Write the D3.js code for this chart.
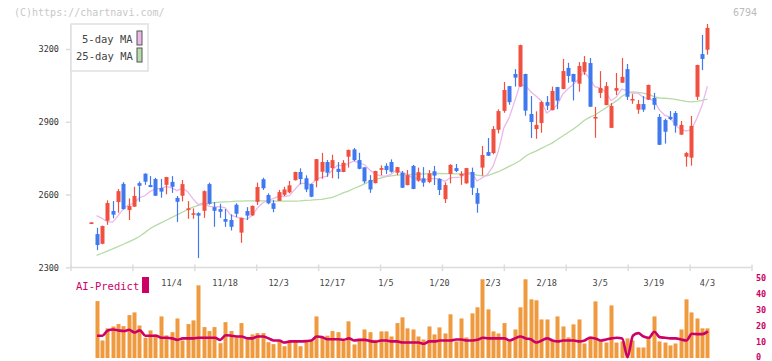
<!DOCTYPE html>
<html><head><meta charset="utf-8">
<script src="https://cdn.jsdelivr.net/npm/d3@7"></script>
<style>body{margin:0;background:#fff;} svg{display:block;}</style>
</head><body>
<svg id="c" width="772" height="361"></svg>
<script>
const openP = [2485,2437,2397,2492,2532,2569,2644,2536,2550,2647,
2686,2639,2664,2627,2640,2652,2586,2595,2543,2517,
2523,2533,2643,2548,2540,2499,2495,2558,2443,2532,
2514,2570,2663,2598,2564,2574,2599,2609,2659,2693,
2667,2643,2657,2694,2734,2709,2706,2693,2756,2786,
2742,2712,2660,2647,2702,2718,2734,2690,2690,2639,
2718,2657,2667,2652,2696,2664,2581,2685,2709,2678,
2646,2693,2606,2711,2775,2771,2867,2945,3047,3097,
3045,3097,2932,2870,2895,2981,2948,3043,3035,3122,
3097,3057,3106,3142,2913,3019,2969,2875,3028,3061,
3117,2990,2950,2973,2991,2998,2920,2907,2920,2936,
2847,2756,2752,3003,3179,3197];
const highP = [2487,2463,2472,2576,2573,2623,2651,2584,2632,2654,
2687,2676,2669,2664,2673,2676,2594,2660,2573,2543,
2527,2617,2649,2569,2562,2540,2518,2564,2505,2548,
2555,2649,2669,2605,2577,2619,2632,2656,2694,2708,
2679,2645,2747,2772,2742,2764,2734,2742,2785,2792,
2772,2713,2680,2698,2720,2729,2745,2714,2697,2701,
2722,2711,2713,2701,2718,2667,2650,2725,2726,2696,
2710,2711,2626,2800,2833,2882,2951,3064,3048,3117,
3218,3098,3006,2943,2986,3006,3045,3044,3159,3143,
3098,3146,3171,3163,2961,3109,3064,2977,3101,3163,
3138,3014,2990,3006,3053,3019,2932,2913,2944,2944,
2903,2775,2924,3135,3258,3303];
const lowP = [2483,2371,2395,2475,2502,2525,2538,2495,2549,2570,
2640,2630,2594,2587,2601,2607,2487,2572,2500,2500,
2338,2504,2558,2467,2504,2467,2452,2507,2401,2495,
2512,2557,2619,2560,2527,2574,2594,2605,2658,2642,
2610,2589,2630,2665,2673,2667,2665,2692,2711,2738,
2704,2646,2607,2646,2679,2685,2690,2680,2627,2638,
2622,2653,2632,2647,2639,2598,2565,2646,2693,2640,
2645,2598,2525,2678,2759,2766,2852,2937,2970,3045,
3044,2925,2833,2830,2855,2948,2947,2952,3034,3061,
2988,3024,3093,2961,2834,2998,2968,2874,3010,3060,
2990,2974,2933,2941,2990,2950,2804,2810,2907,2855,
2846,2715,2719,2990,3113,3177];
const closeP = [2485,2392,2470,2565,2517,2614,2540,2553,2594,2636,
2653,2631,2595,2612,2672,2632,2570,2643,2543,2523,
2513,2614,2562,2533,2529,2488,2467,2521,2504,2513,
2553,2631,2626,2564,2541,2610,2621,2638,2693,2664,
2621,2591,2746,2734,2690,2742,2693,2731,2784,2742,
2706,2654,2621,2697,2709,2701,2694,2713,2628,2680,
2623,2692,2649,2687,2678,2619,2639,2722,2697,2685,
2709,2628,2562,2763,2760,2870,2944,3031,2981,3082,
3216,2946,2899,2887,2981,2966,3027,2987,3109,3089,
3065,3130,3146,2962,2920,3039,3047,2965,3039,3085,
3003,2994,2973,2950,3052,2970,2805,2859,2911,2884,
2887,2771,2883,3134,3159,3287];
const ma5 = [null,2513,2502,2488,2486,2512,2541,2558,2564,2587,
2595,2613,2622,2625,2633,2628,2616,2626,2612,2582,
2558,2567,2551,2549,2550,2545,2516,2508,2502,2499,
2512,2544,2565,2577,2583,2594,2592,2595,2621,2645,
2647,2641,2663,2671,2676,2701,2721,2718,2728,2738,
2731,2723,2701,2684,2677,2676,2684,2703,2689,2683,
2668,2667,2654,2666,2666,2665,2654,2669,2671,2672,
2690,2688,2656,2669,2684,2717,2780,2874,2917,2982,
3051,3051,3025,3006,2986,2936,2952,2970,3014,3036,
3055,3076,3108,3078,3045,3039,3023,2987,3002,3035,
3028,3017,3019,3001,2994,2988,2950,2927,2919,2886,
2869,2862,2867,2912,2967,3047];
const ma25 = [null,2349,2358,2367,2376,2385,2395,2405,2415,2427,
2443,2460,2472,2483,2494,2505,2516,2527,2539,2548,
2555,2560,2564,2567,2569,2570,2571,2573,2573,2574,
2574,2574,2574,2574,2573,2573,2573,2573,2573,2574,
2576,2577,2579,2580,2584,2588,2597,2607,2614,2625,
2634,2644,2653,2662,2668,2674,2677,2680,2681,2682,
2683,2684,2685,2685,2686,2687,2686,2686,2685,2685,
2685,2685,2680,2677,2678,2686,2694,2705,2716,2727,
2739,2757,2770,2779,2790,2801,2812,2827,2841,2856,
2870,2887,2905,2918,2928,2942,2957,2971,2986,3004,
3017,3023,3021,3018,3014,3004,2998,2997,2995,2992,
2988,2984,2982,2984,2988,2993];
const volume = [null,35.7,11,18.6,19.8,21.3,20,26.9,28.6,20.4,
12.7,17.3,14.8,26.1,14.2,16.2,24.8,11,21.3,23.6,
45.6,19.4,16.9,19.4,9.3,22.5,16.9,12.9,21.9,11.6,
14.8,15.6,15.6,9.9,8.7,10.6,7.4,10.6,10.6,7.4,
10.6,10.6,26.1,13.1,14,16.9,16.2,10.6,23,8.5,
12.1,17.9,16.2,11.4,16.7,16.7,13.5,21.9,25.5,18.6,
17.9,13.5,11.6,19.8,14.8,19.2,15.4,27.4,10.4,24.8,
12.9,28,31.8,49.4,30.5,16.7,15.4,21.9,10.4,17.9,
31.8,49.4,36.8,36.2,24.2,24.2,11,26.1,19.8,12.9,
21.1,24.2,9.1,13.5,35.5,11,9.7,33,9.7,10.4,
12.3,11,6.6,6.6,12.3,26.1,10.4,9.7,7.9,9.1,
17.9,36.8,28.6,24.8,18.6,18.6];
const aiPredict = [null,14,14,17.3,17.9,17.3,16.9,17.7,16,17.3,
14,14,14,12.7,12.7,12.3,11.4,12.3,12.3,12.3,
12.7,12.7,12.7,12.7,11.4,14.3,14,13.5,13.5,12.3,
12.3,13.5,13.5,12.3,11,11,9.7,10.4,10.4,10.4,
10.6,11,13.5,13.1,11.8,11.8,11.8,11.4,12.3,11,
11.4,11.4,10.6,10.2,11,11,10.4,10.4,9.7,9.7,
9.7,9.7,8.9,10.4,10.4,11,11,11,11.6,11.6,
11,11,11.4,12.7,12.3,12.3,12.3,12.3,11,12.3,
13.5,12.3,11.6,9.7,11,12.3,11,10.4,11,11,
11,10.4,11,12.7,12.3,11,11.6,12.3,12.7,12.3,
0.5,14,15.6,13.5,12.7,16.5,13.1,12.7,12.3,12.3,
11.6,11,15.2,15,15,16.7];
const dateLabels = ["11/4","11/18","12/3","12/17","1/5","1/20","2/3","2/18","3/5","3/19","4/3"];
const dateLabelIndex = [15,25,35,45,55,65,75,85,95,105,115];
const priceTicks = [2300,2600,2900,3200];
const volTicks = [0,10,20,30,40,50];
const gridTicks = d3.range(0,12);

const svg = d3.select("#c");
const mono = "'DejaVu Sans Mono', monospace";
const idx = d3.range(openP.length);
const x = d3.scaleLinear().domain([0,115]).range([91.2,707.4]);
const xg = d3.scaleLinear().domain([0,11]).range([71,752]);
const y = d3.scaleLinear().domain([2300,3200]).range([267.3,49]);
const yv = d3.scaleLinear().domain([0,50]).range([358,278.3]);
const RED="#f05040", BLUE="#4078f0";

// watermark / code
svg.append("text").attr("x",14).attr("y",16).attr("font-family",mono).attr("font-size",10)
  .attr("fill","#c8c8c8").text("(C)https://chartnavi.com/");
svg.append("text").attr("x",757).attr("y",16).attr("text-anchor","end").attr("font-family",mono)
  .attr("font-size",10).attr("fill","#bbb").text("6794");

// axes
const axisCol="#dcdcdc";
svg.append("line").attr("x1",71).attr("x2",71).attr("y1",24).attr("y2",267.5)
  .attr("stroke",axisCol).attr("stroke-width",1.5);
svg.append("line").attr("x1",71).attr("x2",752).attr("y1",267.5).attr("y2",267.5)
  .attr("stroke",axisCol).attr("stroke-width",1.5);
svg.append("g").selectAll("line").data(gridTicks).join("line")
  .attr("x1",d=>xg(d)).attr("x2",d=>xg(d)).attr("y1",264.5).attr("y2",271)
  .attr("stroke",axisCol).attr("stroke-width",1.5);
const yAxis = svg.append("g").attr("transform","translate(71,0)")
  .call(d3.axisLeft(y).tickValues(priceTicks).tickFormat(d3.format("d")).tickSize(5).tickPadding(7));
yAxis.select(".domain").remove();
yAxis.selectAll("line").attr("stroke",axisCol).attr("stroke-width",1.5);
yAxis.selectAll("text").attr("font-family",mono).attr("font-size",8.5).attr("fill","#333");

// date labels
svg.append("g").selectAll("text").data(dateLabels).join("text")
  .attr("x",(d,k)=>x(dateLabelIndex[k])).attr("y",285.5).attr("text-anchor","middle")
  .attr("font-family",mono).attr("font-size",8.5).attr("fill","#444").text(d=>d);

// MA lines
const maLine = arr => d3.line().defined(i=>arr[i]!=null).x(i=>x(i)).y(i=>y(arr[i]));
svg.append("path").attr("d",maLine(ma25)(idx)).attr("fill","none").attr("stroke","#b4dca4").attr("stroke-width",1.3);
svg.append("path").attr("d",maLine(ma5)(idx)).attr("fill","none").attr("stroke","#ebb8eb").attr("stroke-width",1.3);

// candles
const cg = svg.append("g");
cg.selectAll("line").data(idx).join("line")
  .attr("x1",i=>Math.round(x(i))+0.5).attr("x2",i=>Math.round(x(i))+0.5)
  .attr("y1",i=>y(highP[i])).attr("y2",i=>y(lowP[i]))
  .attr("stroke",i=>closeP[i]>=openP[i]?RED:BLUE).attr("stroke-width",1.2);
cg.selectAll("rect").data(idx).join("rect")
  .attr("x",i=>Math.round(x(i))-1.5).attr("width",4)
  .attr("y",i=>y(Math.max(openP[i],closeP[i])))
  .attr("height",i=>Math.max(1.6,y(Math.min(openP[i],closeP[i]))-y(Math.max(openP[i],closeP[i]))))
  .attr("fill",i=>closeP[i]>=openP[i]?RED:BLUE);

// legend
svg.append("rect").attr("x",71).attr("y",24).attr("width",77).attr("height",47)
  .attr("fill","#fff").attr("stroke","#e0e0e0").attr("stroke-width",1.5);
const leg = [["5-day MA","#ecb8ec",82,43,31],["25-day MA","#b8dcab",76,60,48]];
leg.forEach(l=>{
  svg.append("text").attr("x",l[2]).attr("y",l[3]).attr("font-family",mono).attr("font-size",10.5)
    .attr("fill","#444").text(l[0]);
  svg.append("rect").attr("x",137).attr("y",l[4]).attr("width",5).attr("height",14)
    .attr("fill",l[1]).attr("stroke","#555").attr("stroke-width",1);
});

// lower panel
svg.append("text").attr("x",76).attr("y",290).attr("font-family",mono).attr("font-size",10.5)
  .attr("fill","#cc0066").text("AI-Predict");
svg.append("rect").attr("x",142).attr("y",277).attr("width",7).attr("height",16).attr("fill","#cc0066");
svg.append("g").selectAll("rect").data(idx.filter(i=>volume[i]!=null)).join("rect")
  .attr("x",i=>Math.round(x(i))-1.5).attr("width",4)
  .attr("y",i=>yv(volume[i])).attr("height",i=>yv(0)-yv(volume[i]))
  .attr("fill","#f09a40");
svg.append("path").attr("d",d3.line().defined(i=>aiPredict[i]!=null).x(i=>x(i)+0.5).y(i=>yv(aiPredict[i]))
  .curve(d3.curveMonotoneX)(idx)).attr("fill","none").attr("stroke","#cc0066").attr("stroke-width",2.6);
svg.append("g").selectAll("text").data(volTicks).join("text")
  .attr("x",756).attr("y",d=>Math.min(yv(d)+3,359.5)).attr("font-family",mono).attr("font-size",8.5)
  .attr("font-weight","bold").attr("fill","#cc0066").text(d=>d);
</script>
</body></html>
